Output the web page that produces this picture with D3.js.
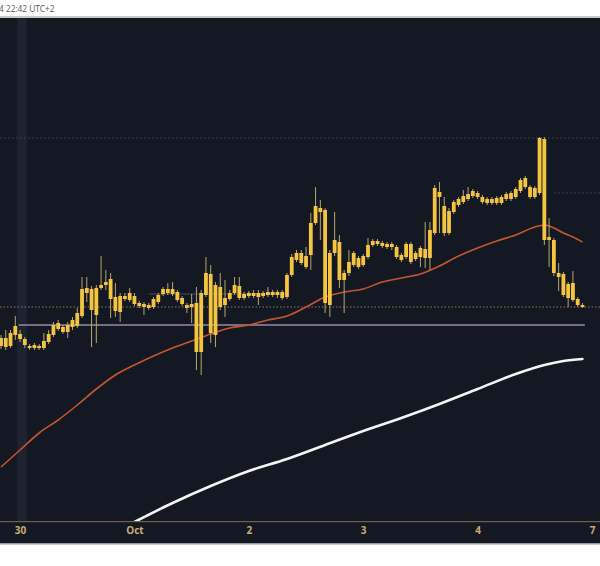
<!DOCTYPE html>
<html><head><meta charset="utf-8">
<script src="https://cdn.jsdelivr.net/npm/d3@7"></script>
<style>
html,body{margin:0;padding:0;background:#fff;}
svg{display:block;}
</style></head>
<body>
<svg id="chart" width="600" height="566"></svg>
<script>
// ---------- DATA ----------
// hourly candles [open, high, low, close], first candle = 2024-09-29 20:00 UTC
const candleStartUTC = Date.UTC(2024, 8, 29, 20);
const candles = [
[182,185,171,174],[173,190,170,182],[174,190,172,187],[194,204,180,185],[186,190,178,181],
[181,183,172,175],[172,176,170,174],[175,177,170,172],[172,176,170,174],[172,187,170,179],
[178,190,176,186],[185,198,183,195],[197,200,189,191],[188,195,186,193],[188,198,182,195],
[193,203,190,200],[194,212,192,207],[204,243,202,231],[232,243,218,227],[231,234,173,210],
[205,235,177,232],[232,264,230,235],[238,250,230,235],[241,247,202,221],[223,237,203,209],
[208,227,198,224],[221,227,219,224],[227,232,218,220],[224,227,214,216],[217,219,212,214],
[216,218,205,213],[212,217,210,215],[213,223,211,221],[218,227,216,225],[226,233,224,231],
[231,237,225,227],[231,238,224,226],[228,230,218,220],[222,224,214,216],[212,217,207,215],
[216,226,197,213],[217,233,150,168],[168,230,145,227],[225,263,223,247],[246,255,177,187],
[185,238,173,235],[233,247,210,213],[215,240,203,222],[221,230,219,227],[227,243,225,235],
[234,243,220,222],[222,228,220,226],[227,229,222,224],[224,230,222,227],[223,230,215,227],
[227,229,222,224],[225,233,223,228],[228,230,223,225],[225,230,222,228],[228,230,220,222],
[223,247,221,245],[245,266,243,263],[260,270,258,267],[267,270,255,257],[253,273,251,264],
[265,307,250,297],[297,333,295,314],[312,320,280,308],[310,312,207,217],[215,270,203,267],
[267,308,264,280],[278,285,232,240],[240,250,207,247],[247,270,244,258],[255,269,253,267],
[262,264,251,253],[255,266,253,264],[263,282,261,275],[275,281,273,279],[279,281,274,276],
[277,279,272,274],[273,278,271,276],[276,278,270,273],[273,275,261,263],[260,267,258,265],
[263,278,261,276],[276,278,256,258],[261,269,259,267],[272,274,253,263],[262,298,252,271],
[262,298,250,290],[287,335,285,332],[328,338,287,323],[314,323,284,287],[287,312,285,309],
[308,320,306,318],[315,323,313,321],[318,330,316,324],[321,333,319,326],[324,331,322,329],
[327,329,321,323],[323,325,316,318],[321,323,315,317],[317,323,315,321],[322,324,315,317],
[317,325,315,323],[321,328,319,326],[321,329,319,327],[323,333,321,331],[329,342,327,340],
[342,344,331,333],[333,335,321,323],[323,334,321,332],[327,383,325,382],[381,383,275,280],
[283,302,253,280],[280,282,244,247],[247,257,229,243],[246,248,223,225],[236,238,213,222],
[237,249,218,220],[221,223,213,215],[215,217,212,213]
];
// moving averages (hours from 2024-09-30 00:00 UTC, value)
const ma50Hours  = [-4,0,4,8,12,16,20,24,28,32,36,40,44,48,52,56,60,64,68,72,76,80,84,88,92,96,100,104,108,110,112,114,116,118];
const ma50Values = [53,70,87,100,115,131,145,155,164,172,179,186,192,195,200,204,213,223,228,231,238,242,246,254,264,272,279,285,293,295,292,287,283,278];
const ma200Hours  = [16,24,32,40,48,56,64,72,80,88,96,104,110,114,118];
const ma200Values = [-22,-2,17,34,49,61,75,89,102,116,131,146,155,159,161];
// horizontal levels
const levelHigh = 382, levelMid = 327, levelSupport = 195, levelRange = 226;
const lastPrice = candles[candles.length-1][3];
// axis ticks
const tickDates  = ["2024-09-30","2024-10-01","2024-10-02","2024-10-03","2024-10-04","2024-10-05"];
const tickLabels = ["30","Oct","2","3","4","7"];
const headerText = "4 22:42 UTC+2";

// ---------- DRAW ----------
const W = 600, H = 566;
const plotTop = 18, plotBottom = 521;
const svg = d3.select("#chart");
const hour = 3600e3;
const t0 = Date.UTC(2024, 8, 30);
const x = d3.scaleUtc().domain([new Date(candleStartUTC), new Date(Date.UTC(2024, 9, 5))]).range([1, 592]);
const y = d3.scaleLinear().domain([0, 500]).range([520, 20]);
const hx = h => x(new Date(t0 + h*hour));

svg.append("rect").attr("width", W).attr("height", H).attr("fill", "#fff");
// header
svg.append("text").attr("x", -1).attr("y", 11.5).attr("font-family","Open Sans, sans-serif")
  .attr("font-size", 8.3).attr("fill", "#555").text(headerText);
svg.append("rect").attr("x",0).attr("y",16).attr("width",W).attr("height",2).attr("fill","#c9c9c9");
// plot bg
svg.append("rect").attr("x",0).attr("y",plotTop).attr("width",W).attr("height",plotBottom-plotTop).attr("fill","#141823");
svg.append("defs").append("clipPath").attr("id","clip").append("rect")
  .attr("x",0).attr("y",plotTop).attr("width",W).attr("height",plotBottom-plotTop);
const g = svg.append("g").attr("clip-path","url(#clip)");

// highlight band
g.append("rect").attr("x", hx(-0.6)).attr("y", plotTop).attr("width", hx(1.4)-hx(-0.6)).attr("height", plotBottom-plotTop)
  .attr("fill","#1f2330");

// levels
g.append("line").attr("x1",0).attr("x2",W).attr("y1",y(levelHigh)).attr("y2",y(levelHigh))
  .attr("stroke","#3a3f4c").attr("stroke-width",1).attr("stroke-dasharray","2,2");
g.append("line").attr("x1",hx(112)).attr("x2",W).attr("y1",y(levelMid)).attr("y2",y(levelMid))
  .attr("stroke","#3a3f4c").attr("stroke-width",1).attr("stroke-dasharray","2,2");
g.append("line").attr("x1",hx(27)).attr("x2",hx(56)).attr("y1",y(levelRange)).attr("y2",y(levelRange))
  .attr("stroke","#4a4c58").attr("stroke-width",1);
g.append("line").attr("x1",hx(-0.3)).attr("x2",hx(118.5)).attr("y1",y(levelSupport)).attr("y2",y(levelSupport))
  .attr("stroke","#9a88a6").attr("stroke-width",1.5);
g.append("line").attr("x1",0).attr("x2",W).attr("y1",y(lastPrice)).attr("y2",y(lastPrice))
  .attr("stroke","#8d7a5a").attr("stroke-width",1).attr("stroke-dasharray","1.5,2");

// MAs
const line = d3.line().curve(d3.curveMonotoneX);
g.append("path").attr("d", line(ma200Hours.map((h,i)=>[hx(h), y(ma200Values[i])])))
  .attr("fill","none").attr("stroke","#f4f4f4").attr("stroke-width",2.6).attr("stroke-linecap","round");
g.append("path").attr("d", line(ma50Hours.map((h,i)=>[hx(h), y(ma50Values[i])])))
  .attr("fill","none").attr("stroke","#c4562e").attr("stroke-width",1.6);

// candles
const bw = 3.8;
const cg = g.append("g");
candles.forEach((c,i) => {
  const cx = x(new Date(candleStartUTC + i*hour));
  const [o,hi,lo,cl] = c;
  cg.append("line").attr("x1",cx).attr("x2",cx).attr("y1",y(hi)).attr("y2",y(lo))
    .attr("stroke","#b8a66e").attr("stroke-width",1);
  const yt = y(Math.max(o,cl)), yb = y(Math.min(o,cl));
  cg.append("rect").attr("x",cx-bw/2).attr("y",yt).attr("width",bw).attr("height",Math.max(1.5,yb-yt))
    .attr("fill","#f4c63f");
});

// bottom axis
svg.append("rect").attr("x",0).attr("y",plotBottom).attr("width",W).attr("height",22).attr("fill","#141823");
svg.append("rect").attr("x",0).attr("y",plotBottom).attr("width",W).attr("height",1.2).attr("fill","#6e6248");
svg.append("rect").attr("x",0).attr("y",plotBottom+22).attr("width",W).attr("height",1.5).attr("fill","#9a9aa0");
const axis = d3.axisBottom(x).tickValues(tickDates.map(d=>new Date(d+"T00:00:00Z")))
  .tickFormat((d,i)=>tickLabels[i]).tickSize(0).tickPadding(0);
const ax = svg.append("g").attr("transform",`translate(0,${plotBottom+6})`).call(axis);
ax.select(".domain").remove();
ax.selectAll("text").attr("fill","#c9ad74").attr("font-size",10).attr("font-weight","bold")
  .attr("font-family","Open Sans, sans-serif");
</script>
</body></html>
